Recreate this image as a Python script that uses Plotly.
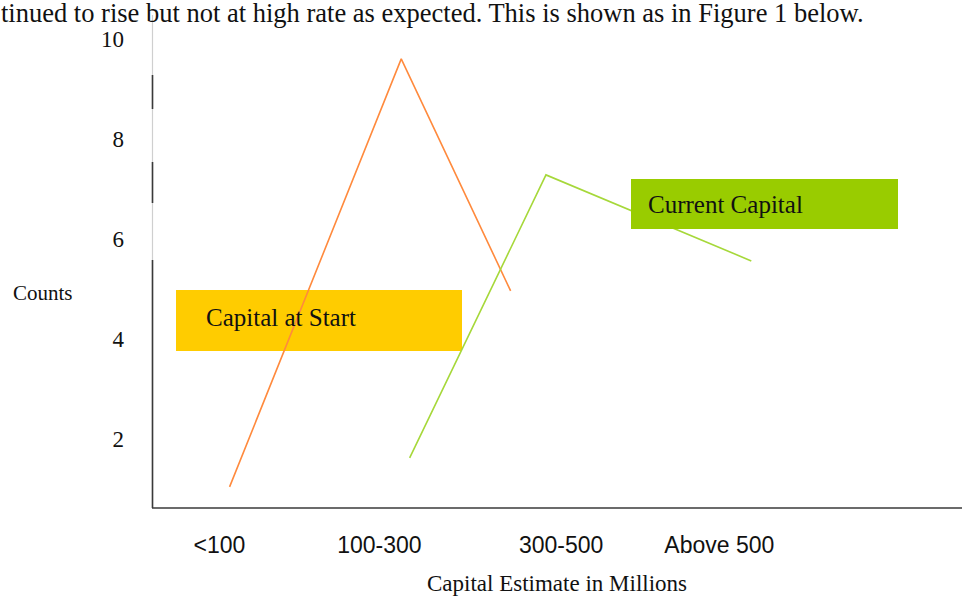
import plotly.graph_objects as go

# ---- data ----
categories = ["<100", "100-300", "300-500", "Above 500"]
cat_pos = [0.01, 0.96, 2.04, 2.98]
y_ticks = [2, 4, 6, 8, 10]

start_x = [0.07, 1.09, 1.74]
start_y = [1.05, 9.61, 4.97]
current_x = [1.14, 1.95, 3.17]
current_y = [1.63, 7.29, 5.57]

# ---- layout helpers (pixel -> paper) ----
W, H = 962, 596
L, R, T, B = 152, 962, 15, 508


def px(x):
    return (x - L) / (R - L)


def py(y):
    return (B - y) / (B - T)


serif = "Liberation Serif"
sans = "Liberation Sans"

fig = go.Figure()
fig.add_trace(go.Scatter(x=start_x, y=start_y, mode="lines",
                         line=dict(color="#FF8A3D", width=1.6),
                         name="Capital at Start", showlegend=False))
fig.add_trace(go.Scatter(x=current_x, y=current_y, mode="lines",
                         line=dict(color="#A6D83A", width=1.6),
                         name="Current Capital", showlegend=False))

shapes = []
# yellow box (below lines)
shapes.append(dict(type="rect", xref="paper", yref="paper", layer="below",
                   x0=px(176), x1=px(462), y0=py(351), y1=py(290),
                   fillcolor="#FFCC00", line=dict(width=0)))
# green box (above lines)
shapes.append(dict(type="rect", xref="paper", yref="paper", layer="above",
                   x0=px(631), x1=px(898), y0=py(229), y1=py(179),
                   fillcolor="#99CC00", line=dict(width=0)))
# y axis line: light gray full, with dark segments
shapes.append(dict(type="line", xref="paper", yref="paper", layer="above",
                   x0=px(152.5), x1=px(152.5), y0=py(508), y1=py(15),
                   line=dict(color="#CFCFCF", width=1.2)))
for a, b in [(75, 109), (162, 203), (260, 508)]:
    shapes.append(dict(type="line", xref="paper", yref="paper", layer="above",
                       x0=px(152.5), x1=px(152.5), y0=py(b), y1=py(a),
                       line=dict(color="#3A3A3A", width=1.6)))
# x axis line
shapes.append(dict(type="line", xref="paper", yref="paper", layer="above",
                   x0=px(152), x1=px(962), y0=py(508), y1=py(508),
                   line=dict(color="#3A3A3A", width=1.6)))

annotations = [
    dict(text="Capital at Start", xref="paper", yref="paper",
         x=px(204), y=py(317), xanchor="left", yanchor="middle",
         showarrow=False, font=dict(family=serif, size=25, color="#111")),
    dict(text="Current Capital", xref="paper", yref="paper",
         x=px(646), y=py(205), xanchor="left", yanchor="middle",
         showarrow=False, font=dict(family=serif, size=25, color="#111")),
    dict(text="Counts", xref="paper", yref="paper",
         x=px(11), y=py(293), xanchor="left", yanchor="middle",
         showarrow=False, font=dict(family=serif, size=21, color="#111")),
    dict(text="Capital Estimate in Millions", xref="paper", yref="paper",
         x=px(557), y=py(583), xanchor="center", yanchor="middle",
         showarrow=False, font=dict(family=serif, size=23, color="#111")),
    dict(text="tinued to rise but not at high rate as expected. This is shown as in Figure 1 below.",
         xref="paper", yref="paper", x=px(-1), y=py(13), xanchor="left", yanchor="middle",
         showarrow=False, font=dict(family=serif, size=26.5, color="#111")),
]

fig.update_layout(
    width=W, height=H,
    margin=dict(l=L, r=W - R, t=T, b=H - B),
    paper_bgcolor="white", plot_bgcolor="white",
    shapes=shapes, annotations=annotations,
    xaxis=dict(range=[-0.391, 4.422], tickvals=cat_pos, ticktext=categories,
               showgrid=False, zeroline=False, showline=False, ticks="",
               ticklabelstandoff=21, automargin=False,
               tickfont=dict(family=sans, size=23, color="#111")),
    yaxis=dict(range=[0.628, 10.488], tickvals=y_ticks,
               showgrid=False, zeroline=False, showline=False, ticks="",
               ticklabelstandoff=27, automargin=False,
               tickfont=dict(family=serif, size=23, color="#111")),
)

fig.write_html("out.html")
